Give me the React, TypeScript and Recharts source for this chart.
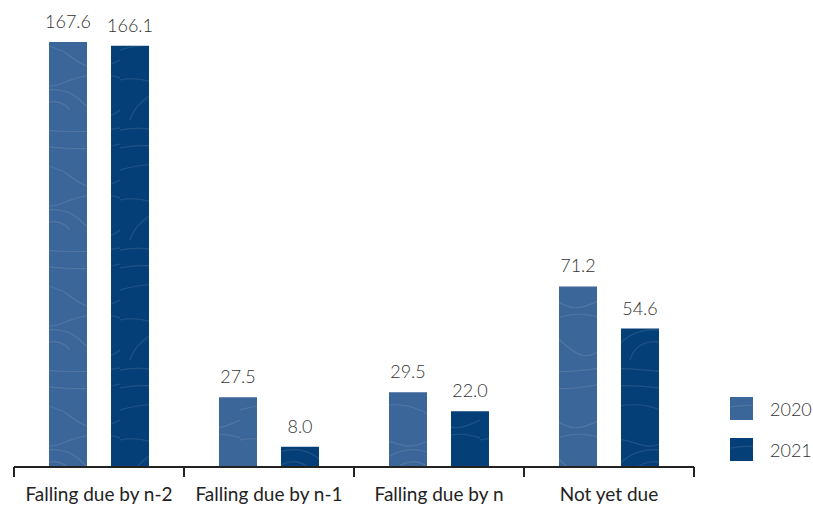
import React from 'react';
import { BarChart, Bar, XAxis, YAxis, LabelList } from 'recharts';

const categories = ['Falling due by n-2', 'Falling due by n-1', 'Falling due by n', 'Not yet due'];
const values2020 = [167.6, 27.5, 29.5, 71.2];
const values2021 = [166.1, 8.0, 22.0, 54.6];
const seriesNames = ['2020', '2021'];

const data = categories.map((name, i) => ({
  name,
  y2020: values2020[i],
  y2021: values2021[i],
}));

const W = 813;
const H = 506;
const MARGIN = { top: 42, right: 119, bottom: 0, left: 14 };
const PLOT_W = W - MARGIN.left - MARGIN.right;
const FONT = 'Lato, "Open Sans", sans-serif';
const COLORS = ['#3b6699', '#053f78'];

const CatTick = (props: any) => {
  const { x, y, payload, index } = props;
  const band = PLOT_W / categories.length;
  const last = index === categories.length - 1;
  return (
    <g>
      <line x1={x - band / 2} x2={x - band / 2} y1={y} y2={y + 10} stroke="#222" strokeWidth={2} />
      {last && <line x1={x + band / 2} x2={x + band / 2} y1={y} y2={y + 10} stroke="#222" strokeWidth={2} />}
      <text x={x} y={y + 34} textAnchor="middle" fontFamily={FONT} fontSize={19} fill="#222">
        {payload.value}
      </text>
    </g>
  );
};

const ChartLegend = () => (
  <div style={{ position: 'absolute', left: 730, top: 397, fontFamily: FONT }}>
    {seriesNames.map((s, i) => (
      <div key={s} style={{ display: 'flex', alignItems: 'center', height: 23, marginBottom: 18 }}>
        <svg width={23} height={23}>
          <rect width={23} height={23} fill={`url(#tex${i})`} />
        </svg>
        <span style={{ marginLeft: 17, fontSize: 18, fontWeight: 300, color: '#333' }}>{s}</span>
      </div>
    ))}
  </div>
);

const Texture = ({ id, color }: { id: string; color: string }) => (
  <pattern id={id} patternUnits="userSpaceOnUse" width={120} height={120}>
    <rect width={120} height={120} fill={color} />
    <g fill="none" stroke="#ffffff" strokeOpacity={0.1} strokeWidth={1.2}>
      <path d="M0 10 C30 4 60 18 120 8" />
      <path d="M0 28 C40 20 70 36 120 24" />
      <path d="M0 50 C20 44 50 40 70 56 S100 70 120 60" />
      <path d="M10 120 C20 90 60 80 80 100 S110 118 120 110" />
      <path d="M30 120 C36 100 60 96 70 110" />
      <path d="M0 80 C30 74 40 92 60 84 S100 70 120 78" />
    </g>
  </pattern>
);

export default function App() {
  return (
    <div style={{ position: 'absolute', left: 0, top: 0, width: W, height: H }}>
      <BarChart
        width={W}
        height={H}
        data={data}
        margin={MARGIN}
        barCategoryGap={35}
        barGap={24}
      >
        <defs>
          <Texture id="tex0" color={COLORS[0]} />
          <Texture id="tex1" color={COLORS[1]} />
        </defs>
        <XAxis
          dataKey="name"
          axisLine={{ stroke: '#222', strokeWidth: 2 }}
          tickLine={false}
          tickSize={0}
          tickMargin={0}
          height={39}
          interval={0}
          tick={<CatTick />}
        />
        <YAxis hide width={0} domain={[0, 'dataMax']} />
        <Bar dataKey="y2020" name={seriesNames[0]} fill="url(#tex0)" isAnimationActive={false}>
          <LabelList
            dataKey="y2020"
            position="top"
            offset={14}
            formatter={(v: any) => Number(v).toFixed(1)}
            style={{ fontFamily: FONT, fontSize: 18, fontWeight: 300, fill: '#333' }}
          />
        </Bar>
        <Bar dataKey="y2021" name={seriesNames[1]} fill="url(#tex1)" isAnimationActive={false}>
          <LabelList
            dataKey="y2021"
            position="top"
            offset={14}
            formatter={(v: any) => Number(v).toFixed(1)}
            style={{ fontFamily: FONT, fontSize: 18, fontWeight: 300, fill: '#333' }}
          />
        </Bar>
      </BarChart>
      <ChartLegend />
    </div>
  );
}
